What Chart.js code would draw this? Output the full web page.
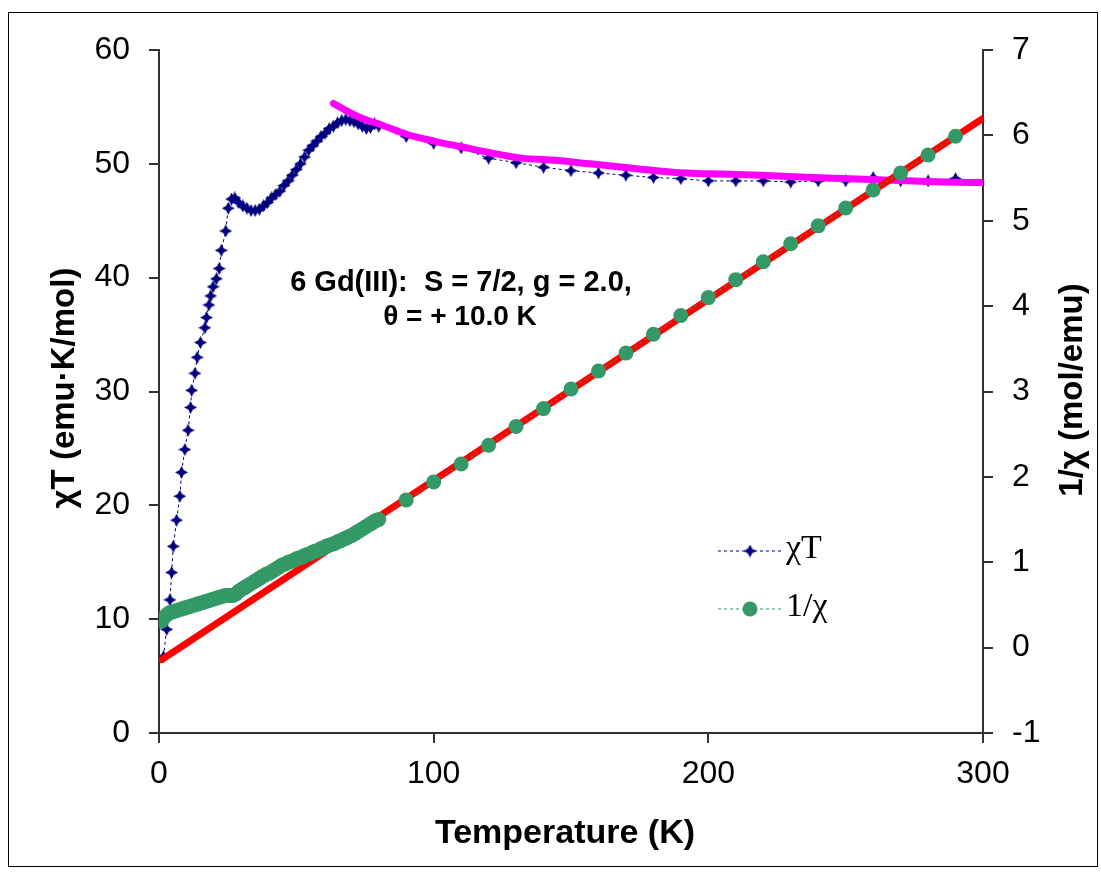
<!DOCTYPE html>
<html>
<head>
<meta charset="utf-8">
<script src="https://cdn.jsdelivr.net/npm/chart.js@4.4.0/dist/chart.umd.min.js"></script>
<style>
    html, body { margin: 0; padding: 0; background: #fff; }
    #wrap { position: relative; width: 1101px; height: 873px; }
    #frame { position: absolute; left: 8px; top: 12px; width: 1088px; height: 853px; border: 1px solid #000; pointer-events: none; }
    canvas { position: absolute; left: 0; top: 0; }
</style>
</head>
<body>
<div id="wrap">
    <canvas id="chart" width="1101" height="873"></canvas>
    <div id="frame"></div>
</div>
<script>
// χT data (left axis)
const chiT_T = [1.6, 2.8, 4.0, 4.6, 5.2, 6.4, 7.6, 8.2, 9.4, 10.6,
    11.5, 11.9, 13.1, 13.9, 15.1, 16.7, 17.3, 18.2, 18.8, 19.7,
    20.9, 21.9, 22.7, 24.3, 25.2, 26.4, 27.6, 29.0, 30.5, 32.0,
    33.5, 35.0, 36.5, 38.0, 39.5, 41.0, 42.5, 44.0, 45.5, 47.0,
    48.5, 50.0, 51.5, 53.0, 54.5, 56.0, 57.5, 59.0, 60.5, 62.0,
    63.5, 65.0, 66.5, 68.0, 69.5, 71.0, 72.5, 74.0, 75.5, 77.0,
    78.5, 80.0, 90, 100, 110, 120, 130, 140, 150, 160,
    170, 180, 190, 200, 210, 220, 230, 240, 250, 260,
    270, 280, 290];
const chiT_val = [6.7, 9.1, 11.7, 14.1, 16.4, 18.7, 20.8, 22.9, 24.9, 26.6,
    28.6, 30.1, 31.6, 33.0, 34.3, 35.6, 36.5, 37.6, 38.4, 39.2,
    39.9, 40.8, 42.4, 44.1, 46.1, 46.9, 47.0, 46.6, 46.3, 46.1,
    45.9, 45.9, 46.0, 46.3, 46.6, 47.0, 47.3, 47.6, 48.1, 48.5,
    49.0, 49.5, 50.0, 50.6, 51.2, 51.6, 52.0, 52.4, 52.7, 53.1,
    53.3, 53.6, 53.8, 53.9, 53.8, 53.7, 53.5, 53.3, 53.1, 53.2,
    53.5, 53.3, 52.4, 51.8, 51.4, 50.5, 50.1, 49.7, 49.4, 49.2,
    49.0, 48.8, 48.7, 48.5, 48.5, 48.5, 48.4, 48.5, 48.5, 48.8,
    48.5, 48.5, 48.7];

// 1/χ data (right axis)
const invChi_T = [1, 2, 3, 4, 5, 6, 7, 8, 9, 10,
    11, 12, 13, 14, 15, 16, 17, 18, 19, 20,
    21, 22, 23, 24, 25, 26, 27, 28, 29, 30,
    31, 32, 33, 34, 35, 36, 37, 38, 39, 40,
    41, 42, 43, 44, 45, 46, 47, 48, 49, 50,
    51, 52, 53, 54, 55, 56, 57, 58, 59, 60,
    61, 62, 63, 64, 65, 66, 67, 68, 69, 70,
    71, 72, 73, 74, 75, 76, 77, 78, 79, 80,
    90, 100, 110, 120, 130, 140, 150, 160, 170, 180,
    190, 200, 210, 220, 230, 240, 250, 260, 270, 280,
    290];
const invChi_val = [0.31, 0.36, 0.39, 0.41, 0.42, 0.43, 0.44, 0.45, 0.46, 0.47,
    0.48, 0.49, 0.50, 0.51, 0.52, 0.53, 0.54, 0.55, 0.56, 0.57,
    0.58, 0.59, 0.60, 0.61, 0.61, 0.61, 0.61, 0.63, 0.66, 0.68,
    0.70, 0.72, 0.74, 0.76, 0.78, 0.80, 0.82, 0.84, 0.86, 0.87,
    0.89, 0.91, 0.93, 0.95, 0.97, 0.98, 1.00, 1.01, 1.02, 1.04,
    1.05, 1.06, 1.08, 1.09, 1.10, 1.12, 1.13, 1.14, 1.16, 1.17,
    1.19, 1.20, 1.21, 1.22, 1.24, 1.25, 1.27, 1.28, 1.30, 1.31,
    1.33, 1.35, 1.37, 1.39, 1.41, 1.43, 1.45, 1.47, 1.49, 1.50,
    1.73, 1.94, 2.15, 2.37, 2.59, 2.80, 3.03, 3.24, 3.45, 3.67,
    3.89, 4.10, 4.31, 4.52, 4.73, 4.94, 5.15, 5.36, 5.56, 5.77,
    5.99];

// ajustes (fits)
const fitCW_T = [63.5, 68, 72, 76, 80, 90, 100, 110, 120, 132, 145, 157, 169, 181, 192, 205, 219, 238, 262, 286, 300];
const fitCW_val = [55.3, 54.7, 54.2, 53.8, 53.5, 52.6, 52.0, 51.5, 51.0, 50.5, 50.3, 50.0, 49.7, 49.4, 49.2, 49.1, 49.0, 48.8, 48.6, 48.4, 48.35];
const fitLin_T = [1, 300];
const fitLin_val = [-0.14, 6.2];

// ticks
const xTicks = [0, 100, 200, 300];
const yTicks = [0, 10, 20, 30, 40, 50, 60];
const y2Ticks = [-1, 0, 1, 2, 3, 4, 5, 6, 7];

const NAVY = '#000080';
const GREEN = '#339966';
const SANS = '"Liberation Sans", Arial, sans-serif';
const SERIF = '"Liberation Serif", "Times New Roman", serif';

const pts = (xs, ys) => xs.map((x, i) => ({ x: x, y: ys[i] }));

// marcador de estrella de 4 puntas
function makeStar(size, color) {
    const c = document.createElement('canvas');
    c.width = size;
    c.height = size;
    const g = c.getContext('2d');
    const m = size / 2, k = size * 0.17;
    g.fillStyle = color;
    g.beginPath();
    g.moveTo(m, 0);
    g.lineTo(m + k, m - k);
    g.lineTo(size, m);
    g.lineTo(m + k, m + k);
    g.lineTo(m, size);
    g.lineTo(m - k, m + k);
    g.lineTo(0, m);
    g.lineTo(m - k, m - k);
    g.closePath();
    g.fill();
    return c;
}
const star = makeStar(13, NAVY);

function axis(min, max, ticks, position, fit) {
    return {
        type: 'linear',
        position: position,
        min: min,
        max: max,
        afterBuildTicks: s => { s.ticks = ticks.map(v => ({ value: v })); },
        afterFit: fit,
        grid: { drawOnChartArea: false, drawTicks: true, tickLength: 10, color: '#333', lineWidth: 2 },
        border: { display: true, color: '#333', width: 2 },
        ticks: { font: { family: SANS, size: 32 }, color: '#000', padding: position === 'bottom' ? 12 : 19 }
    };
}

function rotText(ctx, text, x, y) {
    ctx.save();
    ctx.translate(x, y);
    ctx.rotate(-Math.PI / 2);
    ctx.fillText(text, 0, 0);
    ctx.restore();
}

const textPlugin = {
    id: 'textos',
    afterDraw(chart) {
        const ctx = chart.ctx;
        ctx.save();
        ctx.fillStyle = '#000';
        ctx.textAlign = 'center';
        ctx.textBaseline = 'middle';

        // títulos de ejes
        ctx.font = 'bold 34px ' + SANS;
        ctx.fillText('Temperature (K)', 565, 834);
        ctx.font = 'bold 33px ' + SANS;
        rotText(ctx, 'χT (emu·K/mol)', 65, 388);
        rotText(ctx, '1/χ (mol/emu)', 1073, 390);

        // anotación
        ctx.font = 'bold 29px ' + SANS;
        ctx.fillText('6 Gd(III):  S = 7/2, g = 2.0,', 461, 283);
        ctx.font = 'bold 28px ' + SANS;
        ctx.fillText('θ = + 10.0 K', 460, 317);

        // leyenda
        const items = [
            { y: 551, color: NAVY, label: chart.data.datasets[0].label, marker: 'star' },
            { y: 609, color: GREEN, label: chart.data.datasets[3].label, marker: 'circle' }
        ];
        items.forEach(it => {
            ctx.strokeStyle = it.color;
            ctx.lineWidth = 1;
            ctx.setLineDash([3, 3]);
            ctx.beginPath();
            ctx.moveTo(718, it.y);
            ctx.lineTo(782, it.y);
            ctx.stroke();
            ctx.setLineDash([]);
            if (it.marker === 'star') {
                ctx.drawImage(star, 750 - 6.5, it.y - 6.5);
            } else {
                ctx.fillStyle = it.color;
                ctx.beginPath();
                ctx.arc(750, it.y, 7.5, 0, Math.PI * 2);
                ctx.fill();
            }
            ctx.fillStyle = '#000';
            ctx.font = '34px ' + SERIF;
            ctx.textAlign = 'left';
            ctx.fillText(it.label, 786, it.y - 2);
        });
        ctx.restore();
    }
};

new Chart(document.getElementById('chart').getContext('2d'), {
    type: 'line',
    data: {
        datasets: [{
            label: 'χT',
            data: pts(chiT_T, chiT_val),
            yAxisID: 'y',
            borderColor: NAVY,
            borderWidth: 1,
            borderDash: [3, 3],
            pointStyle: star,
            pointRadius: 6,
            fill: false,
            order: 4
        }, {
            label: 'Curie-Weiss',
            data: pts(fitCW_T, fitCW_val),
            yAxisID: 'y',
            borderColor: '#FF00FF',
            borderWidth: 7,
            borderCapStyle: 'round',
            cubicInterpolationMode: 'monotone',
            pointRadius: 0,
            fill: false,
            order: 3
        }, {
            label: 'ajuste',
            data: pts(fitLin_T, fitLin_val),
            yAxisID: 'y2',
            borderColor: '#FF0000',
            borderWidth: 7,
            borderCapStyle: 'round',
            pointRadius: 0,
            fill: false,
            order: 2
        }, {
            label: '1/χ',
            data: pts(invChi_T, invChi_val),
            yAxisID: 'y2',
            borderColor: GREEN,
            borderWidth: 1,
            borderDash: [3, 3],
            pointStyle: 'circle',
            pointRadius: 7.5,
            pointBackgroundColor: GREEN,
            pointBorderWidth: 0,
            fill: false,
            order: 1
        }]
    },
    options: {
        responsive: false,
        animation: false,
        devicePixelRatio: 1,
        layout: { padding: { top: 50, left: 0, right: 0, bottom: 0 } },
        plugins: {
            legend: { display: false },
            tooltip: { enabled: false }
        },
        scales: {
            x: axis(0, 300, xTicks, 'bottom', s => { s.height = 140; }),
            y: axis(0, 60, yTicks, 'left', s => { s.width = 159; }),
            y2: axis(-1, 7, y2Ticks, 'right', s => { s.width = 118; })
        }
    },
    plugins: [textPlugin]
});
</script>
</body>
</html>
